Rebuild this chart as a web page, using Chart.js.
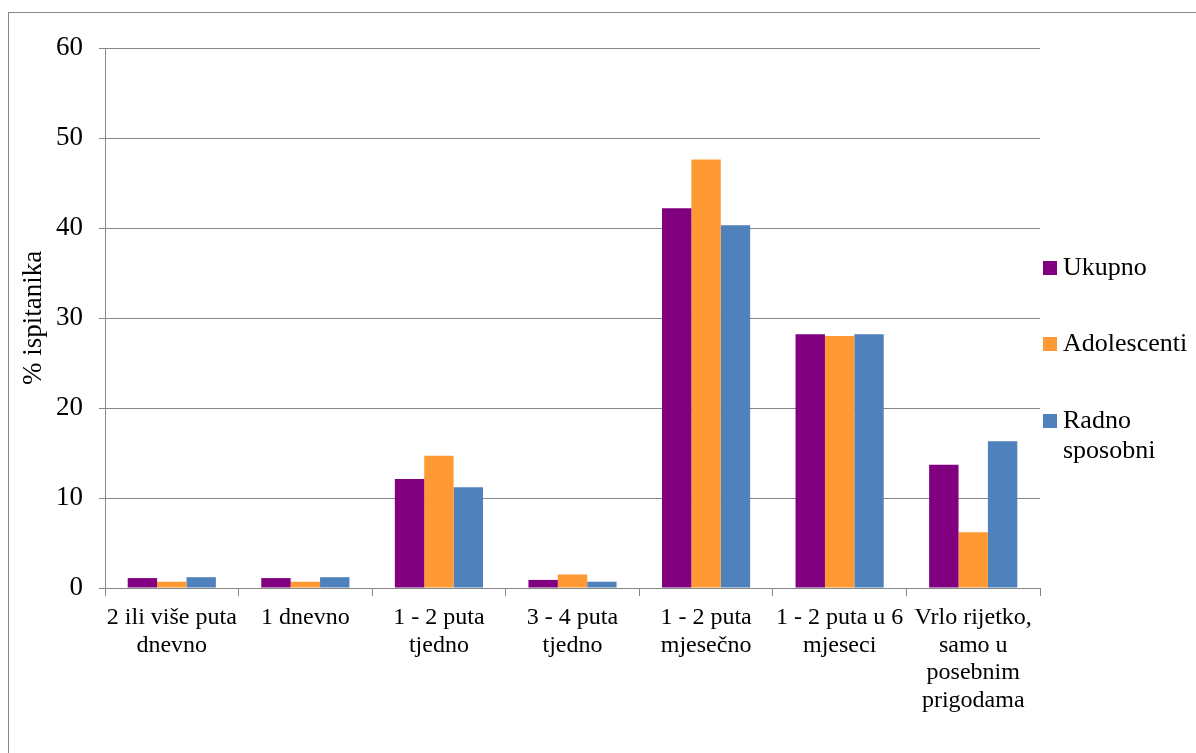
<!DOCTYPE html>
<html>
<head>
<meta charset="utf-8">
<script src="https://cdn.jsdelivr.net/npm/chart.js@4"></script>
<style>
    body { margin: 0; background: #fff; }
    #frame { position: absolute; left: 8px; top: 12px; width: 1300px; height: 800px; border: 1px solid #868686; }
    #wrap { position: absolute; left: 0; top: 0; width: 1196px; height: 753px; overflow: hidden; }
    canvas { position: absolute; left: 0; top: 0; }
    #legend { position: absolute; left: 1043px; top: 0; font-family: 'Liberation Serif', serif; font-size: 26px; color: #000; }
    .item { position: absolute; left: 0; white-space: nowrap; line-height: 30px; }
    .box { position: absolute; left: 0; width: 14px; height: 14px; }
    .txt { position: absolute; left: 20px; }
</style>
</head>
<body>
<div id="wrap">
    <div id="frame"></div>
    <canvas id="freqChart" width="1196" height="753"></canvas>
    <div id="legend"></div>
</div>
<script>
const categories = [
    ['2 ili više puta', 'dnevno'],
    '1 dnevno',
    ['1 - 2 puta', 'tjedno'],
    ['3 - 4 puta', 'tjedno'],
    ['1 - 2 puta', 'mjesečno'],
    ['1 - 2 puta u 6', 'mjeseci'],
    ['Vrlo rijetko,', 'samo u', 'posebnim', 'prigodama']
];
const seriesNames = ['Ukupno', 'Adolescenti', ['Radno', 'sposobni']];
const ukupno = [1.1, 1.1, 12.1, 0.9, 42.2, 28.2, 13.7];
const adolescenti = [0.7, 0.7, 14.7, 1.5, 47.6, 28.0, 6.2];
const radnoSposobni = [1.2, 1.2, 11.2, 0.7, 40.3, 28.2, 16.3];
const yTicks = [0, 10, 20, 30, 40, 50, 60];
const colors = ['#800080', '#FF9933', '#4F81BD'];

const serif = "'Liberation Serif', 'Times New Roman', serif";
const xFont = { family: serif, size: 24, lineHeight: 1.15 };
const yFont = { family: serif, size: 27 };
const axisGray = '#868686';

const ctx = document.getElementById('freqChart').getContext('2d');
new Chart(ctx, {
    type: 'bar',
    data: {
        labels: categories,
        datasets: [ukupno, adolescenti, radnoSposobni].map((data, i) => ({
            label: [].concat(seriesNames[i]).join(' '),
            data: data,
            backgroundColor: colors[i],
            borderWidth: 0,
            categoryPercentage: 0.66,
            barPercentage: 1
        }))
    },
    options: {
        responsive: false,
        animation: false,
        layout: { padding: { top: 48, right: 156, left: 0, bottom: 0 } },
        plugins: {
            legend: { display: false },
            tooltip: { enabled: false }
        },
        scales: {
            x: {
                afterFit: scale => { scale.height = 165; },
                grid: { drawOnChartArea: false, drawTicks: true, tickLength: 8, color: axisGray, offset: true },
                border: { color: axisGray },
                ticks: { font: xFont, color: '#000', padding: 8, maxRotation: 0, autoSkip: false }
            },
            y: {
                min: 0,
                max: 60,
                afterFit: scale => { scale.width = 105; },
                afterBuildTicks: scale => { scale.ticks = yTicks.map(v => ({ value: v })); },
                grid: { color: axisGray, tickLength: 6 },
                border: { color: axisGray },
                ticks: { font: yFont, color: '#000', padding: 16 },
                title: { display: true, text: '% ispitanika', font: yFont, color: '#000', padding: { top: 18, bottom: 0 } }
            }
        }
    }
});

// legenda desno (kao u originalu)
const legendTops = [252, 328, 405];
const legend = document.getElementById('legend');
seriesNames.forEach((name, i) => {
    const item = document.createElement('div');
    item.className = 'item';
    item.style.top = legendTops[i] + 'px';
    item.innerHTML = `<span class="box" style="top:9px;background:${colors[i]}"></span>` +
        `<span class="txt">${[].concat(name).join('<br>')}</span>`;
    legend.appendChild(item);
});
</script>
</body>
</html>
